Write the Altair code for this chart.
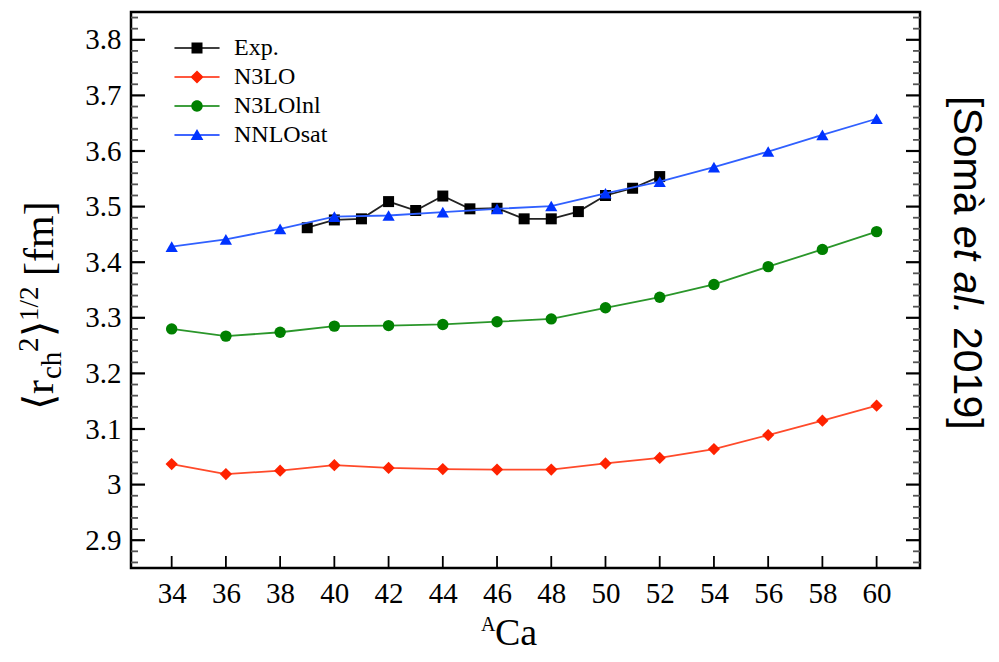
import altair as alt
import pandas as pd

# ---------------- data ----------------
exp_A = [39, 40, 41, 42, 43, 44, 45, 46, 47, 48, 49, 50, 51, 52]
exp_r = [3.462, 3.476, 3.478, 3.509, 3.493, 3.519, 3.496, 3.497, 3.478, 3.478,
         3.491, 3.520, 3.533, 3.554]
th_A = [34, 36, 38, 40, 42, 44, 46, 48, 50, 52, 54, 56, 58, 60]
n3lo_r = [3.037, 3.019, 3.025, 3.035, 3.030, 3.028, 3.027, 3.027, 3.038, 3.048,
          3.064, 3.089, 3.115, 3.142]
n3lolnl_r = [3.280, 3.267, 3.274, 3.285, 3.286, 3.288, 3.293, 3.298, 3.318, 3.337,
             3.360, 3.392, 3.423, 3.455]
nnlosat_r = [3.428, 3.441, 3.460, 3.482, 3.484, 3.490, 3.496, 3.501, 3.524, 3.545,
             3.571, 3.599, 3.629, 3.658]

series_names = ["Exp.", "N3LO", "N3LOlnl", "NNLOsat"]
marker_colors = ["#000000", "#ff2200", "#008000", "#0033ff"]
line_colors = ["#222222", "#ff4a2a", "#2a962a", "#3060ff"]
shapes = ["square", "diamond", "circle", "triangle-up"]
marker_sizes = [121, 150, 130, 150]

x_ticks = [34, 36, 38, 40, 42, 44, 46, 48, 50, 52, 54, 56, 58, 60]
y_major = [2.9, 3.0, 3.1, 3.2, 3.3, 3.4, 3.5, 3.6, 3.7, 3.8]
y_minor = [round(2.86 + 0.02 * i, 2) for i in range(50)]
y_minor = [v for v in y_minor if round(v * 10, 6) != round(v * 10)]

rows = []
for a, r in zip(exp_A, exp_r):
    rows.append({"A": a, "r": r, "series": "Exp."})
for name, vals in [("N3LO", n3lo_r), ("N3LOlnl", n3lolnl_r), ("NNLOsat", nnlosat_r)]:
    for a, r in zip(th_A, vals):
        rows.append({"A": a, "r": r, "series": name})
df = pd.DataFrame(rows)

# ---------------- layout ----------------
W, H = 789, 556
SERIF = "Liberation Serif"
SANS = "Liberation Sans"

xscale = alt.Scale(domain=[32.5, 61.6], nice=False, zero=False)
yscale = alt.Scale(domain=[2.85, 3.85], nice=False, zero=False)

xaxis = alt.Axis(values=x_ticks, title=None, grid=False, domain=False, ticks=False,
                 tickSize=0, labelFont=SERIF, labelFontSize=29, labelColor="black",
                 labelPadding=11, labelFlush=False)
yaxis = alt.Axis(values=y_major, title=None, grid=False, domain=False, ticks=False,
                 tickSize=0, labelFont=SERIF, labelFontSize=29, labelColor="black",
                 labelPadding=10, format=".1~f", labelFlush=False)


def X(field="A:Q"):
    return alt.X(field, scale=xscale, axis=xaxis)


def Y(field="r:Q"):
    return alt.Y(field, scale=yscale, axis=yaxis)


layers = []

# data series
for name, mc, lc, shp, sz in zip(series_names, marker_colors, line_colors, shapes, marker_sizes):
    base = alt.Chart(df).transform_filter(alt.datum.series == name)
    layers.append(base.mark_line(color=lc, strokeWidth=1.8).encode(x=X(), y=Y()))
    layers.append(base.mark_point(shape=shp, filled=True, color=mc, size=sz, opacity=1)
                  .encode(x=X(), y=Y()))

# legend (line + marker composite symbols)
line_path = "M-2.05,-0.07H2.05V0.07H-2.05Z"
legend_paths = [
    line_path + "M-0.5,-0.5H0.5V0.5H-0.5Z",
    line_path + "M-0.6,0L0,-0.6L0.6,0L0,0.6Z",
    line_path + "M-0.52,0A0.52,0.52 0 1,1 0.52,0A0.52,0.52 0 1,1 -0.52,0Z",
    line_path + "M0,-0.55L0.58,0.45L-0.58,0.45Z",
]
leg = alt.Legend(orient="none", legendX=54, legendY=24, title=None, symbolSize=484,
                 labelFont=SERIF, labelFontSize=24, labelColor="black", labelOffset=25,
                 rowPadding=5, padding=0, symbolStrokeWidth=0, symbolOpacity=1)
layers.append(
    alt.Chart(df).transform_filter("false")
    .mark_point(filled=True, opacity=1)
    .encode(x=X(), y=Y(),
            color=alt.Color("series:N", scale=alt.Scale(domain=series_names, range=marker_colors), legend=leg),
            shape=alt.Shape("series:N", scale=alt.Scale(domain=series_names, range=legend_paths), legend=leg))
)

# inward ticks
ymaj = pd.DataFrame({"v": y_major})
ymin = pd.DataFrame({"v": y_minor})
xt = pd.DataFrame({"v": x_ticks})
layers.append(alt.Chart(ymaj).mark_rule(color="black", strokeWidth=2.2)
              .encode(y=Y("v:Q"), x=alt.value(0), x2=alt.value(14)))
layers.append(alt.Chart(ymaj).mark_rule(color="black", strokeWidth=2.2)
              .encode(y=Y("v:Q"), x=alt.value(W - 14), x2=alt.value(W)))
layers.append(alt.Chart(ymin).mark_rule(color="#555555", strokeWidth=1.8)
              .encode(y=Y("v:Q"), x=alt.value(0), x2=alt.value(7)))
layers.append(alt.Chart(ymin).mark_rule(color="#555555", strokeWidth=1.8)
              .encode(y=Y("v:Q"), x=alt.value(W - 7), x2=alt.value(W)))
layers.append(alt.Chart(xt).mark_rule(color="black", strokeWidth=1.8)
              .encode(x=X("v:Q"), y=alt.value(H - 12), y2=alt.value(H)))

# text annotations
one = pd.DataFrame({"k": [0]})


def txt(text, x, y, size, font=SERIF, angle=0, align="left", baseline="alphabetic", style="normal"):
    return alt.Chart(one).mark_text(text=text, font=font, fontSize=size, angle=angle,
                                    align=align, baseline=baseline, fontStyle=style,
                                    color="black").encode(x=alt.value(x), y=alt.value(y))


# y-axis title  <r_ch^2>^(1/2) [fm]
layers += [
    txt("⟨r", -78, 398, 42, angle=270),
    txt("ch", -70, 367, 29, angle=270),
    txt("2", -93, 340, 29, angle=270),
    txt("⟩", -78, 325, 42, angle=270),
    txt("1/2", -93, 309, 27, angle=270),
    txt("[fm]", -78, 264, 42, angle=270),
]
# x-axis title  ^A Ca
layers += [
    txt("A", 350, 619, 20),
    txt("Ca", 364, 633, 38),
]
# side citation
layers += [
    txt("[Somà", 835, 84, 41, font=SANS, angle=90, baseline="middle"),
    txt("et al.", 835, 214, 41, font=SANS, angle=90, baseline="middle", style="italic"),
    txt("2019]", 835, 315, 41, font=SANS, angle=90, baseline="middle"),
]

chart = alt.layer(*layers).properties(
    width=W, height=H,
    padding={"left": 123, "top": 4, "right": 71, "bottom": 86},
    autosize="none",
    background="white",
).configure_view(stroke="black", strokeWidth=2.5)

chart.save("out.html", embed_options={"renderer": "svg", "actions": False})
